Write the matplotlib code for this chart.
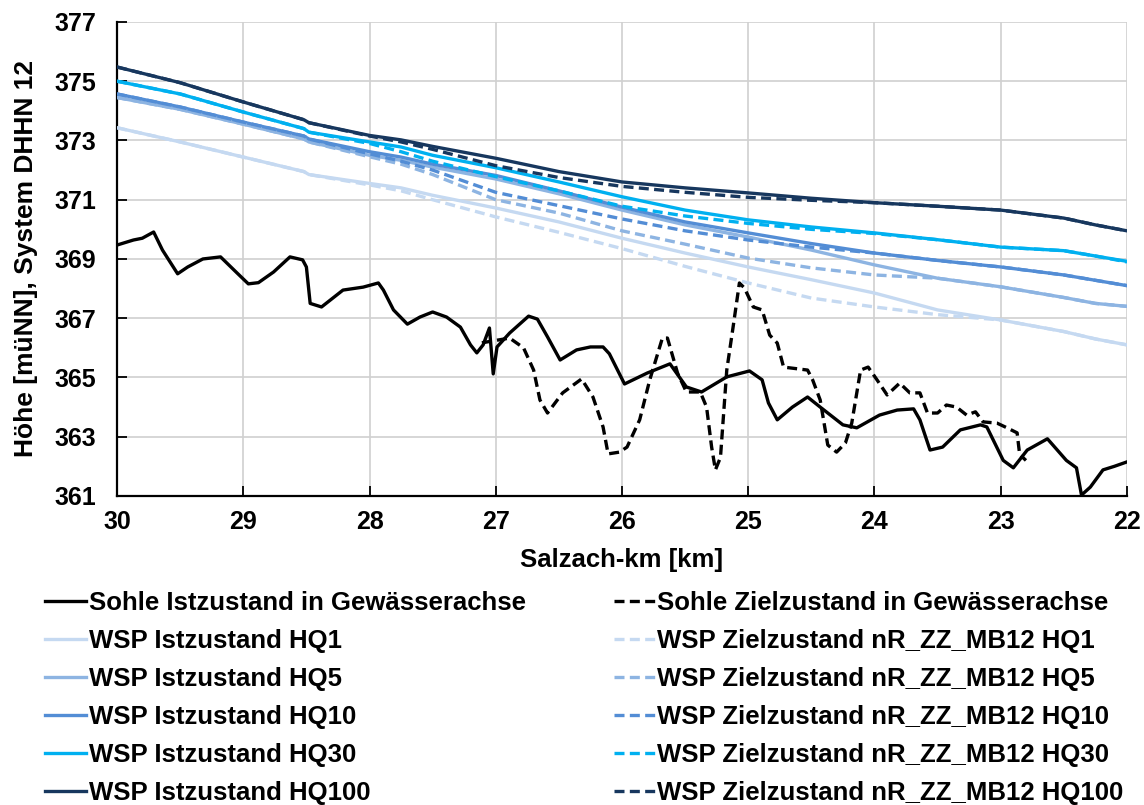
import matplotlib
matplotlib.use("Agg")
import matplotlib.pyplot as plt
import numpy as np

plt.rcParams['font.family'] = ['Liberation Sans', 'DejaVu Sans']
plt.rcParams['font.weight'] = 'bold'

# ---- data ----
# bed profile, current state (Sohle Istzustand)
bed_ist_km = [30.0, 29.87, 29.8, 29.71, 29.64, 29.58, 29.52, 29.44, 29.32, 29.18, 29.05, 28.96,
              28.88, 28.76, 28.63, 28.53, 28.5, 28.47, 28.38, 28.21, 28.05, 27.93, 27.89, 27.81,
              27.7, 27.6, 27.5, 27.39, 27.28, 27.2, 27.15, 27.1, 27.05, 27.02, 26.99, 26.89,
              26.74, 26.67, 26.59, 26.49, 26.36, 26.25, 26.15, 26.1, 25.98, 25.8, 25.62, 25.49,
              25.37, 25.17, 24.99, 24.89, 24.84, 24.77, 24.65, 24.53, 24.43, 24.25, 24.14, 23.96,
              23.82, 23.69, 23.64, 23.56, 23.46, 23.32, 23.16, 23.11, 22.98, 22.9, 22.79, 22.63,
              22.48, 22.4, 22.36, 22.29, 22.19, 22.1, 22.0]
bed_ist_h = [369.47, 369.64, 369.7, 369.91, 369.3, 368.9, 368.5, 368.73, 369.0, 369.07, 368.53, 368.16,
             368.2, 368.56, 369.07, 368.97, 368.73, 367.5, 367.38, 367.95, 368.05, 368.19, 367.95, 367.28,
             366.8, 367.04, 367.21, 367.04, 366.7, 366.1, 365.83, 366.1, 366.67, 365.12, 366.03, 366.5,
             367.07, 366.97, 366.37, 365.59, 365.93, 366.03, 366.03, 365.8, 364.78, 365.15, 365.46, 364.68,
             364.51, 365.02, 365.22, 364.92, 364.14, 363.57, 364.0, 364.34, 364.0, 363.4, 363.3, 363.73,
             363.9, 363.94, 363.57, 362.55, 362.65, 363.23, 363.4, 363.33, 362.2, 361.95, 362.55, 362.93,
             362.2, 361.95, 361.03, 361.3, 361.88, 362.0, 362.15]

# bed profile, target state (Sohle Zielzustand)
bed_ziel_km = [27.11, 26.89, 26.78, 26.7, 26.65, 26.59, 26.47, 26.32, 26.23, 26.15, 26.11, 26.02,
               25.96, 25.86, 25.78, 25.68, 25.64, 25.56, 25.49, 25.38, 25.33, 25.29, 25.26, 25.22,
               25.17, 25.12, 25.07, 25.03, 24.96, 24.89, 24.83, 24.77, 24.72, 24.53, 24.49, 24.43,
               24.37, 24.3, 24.23, 24.18, 24.11, 24.05, 23.98, 23.9, 23.8, 23.72, 23.64, 23.58,
               23.5, 23.43, 23.35, 23.27, 23.2, 23.14, 23.03, 22.95, 22.87, 22.85, 22.8]
bed_ziel_h = [366.17, 366.33, 366.0, 365.25, 364.24, 363.8, 364.48, 364.95, 364.34, 363.33, 362.42, 362.48,
              362.65, 363.57, 364.92, 366.33, 366.33, 365.15, 364.51, 364.51, 364.0, 362.65, 361.88, 362.3,
              365.25, 366.7, 368.19, 368.02, 367.38, 367.28, 366.43, 366.16, 365.35, 365.25, 364.92, 364.24,
              362.72, 362.48, 362.79, 363.46, 365.25, 365.35, 364.92, 364.41, 364.81, 364.48, 364.48, 363.8,
              363.8, 364.07, 364.0, 363.73, 363.84, 363.5, 363.46, 363.3, 363.13, 362.4, 362.2]

# water levels (WSP)
wsp_km = [30.0, 29.5, 29.0, 28.52, 28.48, 28.0, 27.75, 27.5, 27.0, 26.5, 26.0, 25.5, 25.0, 24.5,
          24.0, 23.5, 23.0, 22.5, 22.25, 22.0]
hq1_ist = [373.43, 372.95, 372.44, 371.95, 371.85, 371.55, 371.4, 371.15, 370.72, 370.25, 369.7, 369.2,
           368.73, 368.3, 367.85, 367.28, 366.94, 366.55, 366.3, 366.1]
hq1_ziel = [373.43, 372.95, 372.44, 371.95, 371.85, 371.5, 371.3, 371.0, 370.42, 369.9, 369.35, 368.75,
            368.19, 367.68, 367.38, 367.12, 366.94, 366.55, 366.3, 366.1]
hq5_ist = [374.45, 374.05, 373.55, 373.05, 372.95, 372.5, 372.33, 372.1, 371.7, 371.2, 370.65, 370.15,
           369.74, 369.3, 368.8, 368.35, 368.06, 367.7, 367.5, 367.4]
hq5_ziel = [374.45, 374.05, 373.55, 373.05, 372.95, 372.45, 372.2, 371.85, 371.0, 370.55, 369.95, 369.5,
            369.03, 368.7, 368.46, 368.35, 368.06, 367.7, 367.5, 367.4]
hq10_ist = [374.57, 374.13, 373.62, 373.15, 373.05, 372.62, 372.44, 372.2, 371.82, 371.3, 370.75, 370.25,
            369.88, 369.52, 369.2, 368.95, 368.73, 368.46, 368.28, 368.1]
hq10_ziel = [374.57, 374.13, 373.62, 373.15, 373.05, 372.55, 372.3, 372.0, 371.25, 370.8, 370.35, 369.95,
             369.64, 369.4, 369.2, 368.95, 368.73, 368.46, 368.28, 368.1]
hq30_ist = [375.0, 374.57, 373.96, 373.4, 373.28, 372.95, 372.78, 372.5, 372.08, 371.6, 371.1, 370.65,
            370.32, 370.08, 369.88, 369.65, 369.4, 369.28, 369.1, 368.92]
hq30_ziel = [375.0, 374.57, 373.96, 373.4, 373.28, 372.9, 372.62, 372.3, 371.78, 371.3, 370.78, 370.45,
             370.2, 370.0, 369.86, 369.65, 369.4, 369.28, 369.1, 368.9]
hq100_ist = [375.48, 374.95, 374.3, 373.7, 373.6, 373.17, 373.02, 372.8, 372.4, 371.95, 371.6, 371.4,
             371.23, 371.05, 370.9, 370.78, 370.65, 370.38, 370.15, 369.95]
hq100_ziel = [375.48, 374.95, 374.3, 373.7, 373.6, 373.15, 372.95, 372.7, 372.15, 371.75, 371.45, 371.25,
              371.08, 370.98, 370.9, 370.78, 370.65, 370.38, 370.15, 369.95]

hq_names = ["HQ1", "HQ5", "HQ10", "HQ30", "HQ100"]
hq_colors = ["#C5D9F1", "#8DB4E2", "#538DD5", "#00B0F0", "#17375E"]
ist_series = [hq1_ist, hq5_ist, hq10_ist, hq30_ist, hq100_ist]
ziel_series = [hq1_ziel, hq5_ziel, hq10_ziel, hq30_ziel, hq100_ziel]

x_ticks = [30, 29, 28, 27, 26, 25, 24, 23, 22]
y_ticks = [361, 363, 365, 367, 369, 371, 373, 375, 377]

# ---- figure ----
fig = plt.figure(figsize=(11.44, 8.05), dpi=100)
ax = fig.add_axes([0.1023, 0.3839, 0.8828, 0.5888])

lw = 2.4
dash = (3.0, 1.6)

ist_handles = []
ziel_handles = []
h, = ax.plot(bed_ist_km, bed_ist_h, color="black", lw=lw, label="Sohle Istzustand in Gewässerachse", zorder=5)
ist_handles.append(h)
for name, col, ist in zip(hq_names, hq_colors, ist_series):
    h, = ax.plot(wsp_km, ist, color=col, lw=lw, label=f"WSP Istzustand {name}", zorder=3)
    ist_handles.append(h)

h, = ax.plot(bed_ziel_km, bed_ziel_h, color="black", lw=lw, dashes=dash,
             label="Sohle Zielzustand in Gewässerachse", zorder=4)
ziel_handles.append(h)
for name, col, ziel in zip(hq_names, hq_colors, ziel_series):
    h, = ax.plot(wsp_km, ziel, color=col, lw=lw, dashes=dash,
                 label=f"WSP Zielzustand nR_ZZ_MB12 {name}", zorder=4)
    ziel_handles.append(h)

ax.set_xlim(30, 22)
ax.set_ylim(361, 377)
ax.set_xticks(x_ticks)
ax.set_yticks(y_ticks)
ax.grid(True, color="#D0D0D0", lw=1.2, zorder=0)
ax.set_axisbelow(True)
for s in ["top", "right"]:
    ax.spines[s].set_visible(False)
for s in ["left", "bottom"]:
    ax.spines[s].set_linewidth(1.6)
    ax.spines[s].set_color("black")
ax.tick_params(direction="in", length=7, width=1.3, labelsize=18)
ax.tick_params(axis="y", pad=15)
ax.tick_params(axis="x", pad=10)
for lab in ax.get_xticklabels() + ax.get_yticklabels():
    lab.set_fontweight("bold")

ax.set_xlabel("Salzach-km [km]", fontsize=18.5, fontweight="bold", labelpad=10)
ax.set_ylabel("Höhe [müNN], System DHHN 12", fontsize=19, fontweight="bold", labelpad=12)

leg_kw = dict(loc="upper left", frameon=False, prop={"size": 18.5, "weight": "bold"},
              handlelength=1.6, handletextpad=0.1, labelspacing=0.545,
              borderaxespad=0, borderpad=0)
leg1 = fig.legend(handles=ist_handles, bbox_to_anchor=(0.0393, 0.2655), **leg_kw)
leg2 = fig.legend(handles=ziel_handles, bbox_to_anchor=(0.5365, 0.2655), **leg_kw)

fig.savefig("out.png", dpi=100)
